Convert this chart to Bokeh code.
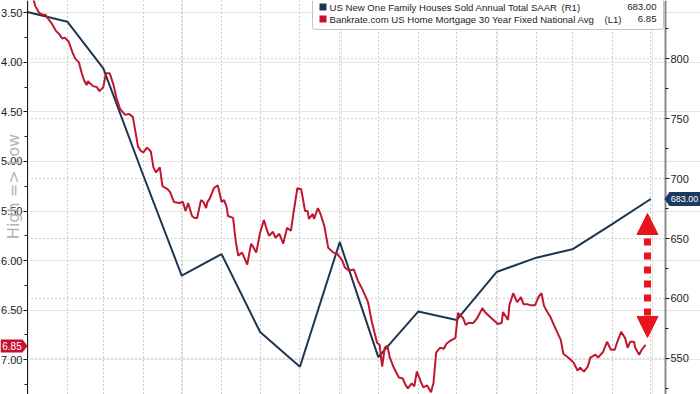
import math
import pandas as pd
from bokeh.plotting import figure
from bokeh.models import (Range1d, LinearAxis, FixedTicker, Grid, Label, BoxAnnotation,
                          PolyAnnotation, Arrow, NormalHead, ColumnDataSource,
                          PrintfTickFormatter)
from bokeh.embed import file_html
from bokeh.resources import INLINE

# ---------------- data ----------------
sales_months = ["2021-12-31", "2022-01-31", "2022-02-28", "2022-03-31", "2022-04-30",
                "2022-05-31", "2022-06-30", "2022-07-31", "2022-08-31", "2022-09-30",
                "2022-10-31", "2022-11-30", "2022-12-31", "2023-01-31", "2023-02-28",
                "2023-03-31", "2023-04-30"]
new_home_sales = [839, 831, 792, 703, 619, 637, 572, 543, 647, 551,
                  589, 582, 622, 634, 641, 662, 683]

rate_start = "2021-12-31"
rate_day = [1, 5, 6, 9, 12, 14, 16, 19, 22, 25,
            27, 29, 32, 35, 37, 40, 42, 44, 46, 47,
            51, 54, 56, 59, 61, 64, 67, 69, 72, 76,
            79, 82, 86, 88, 90, 93, 96, 98, 100, 103,
            105, 109, 111, 114, 118, 121, 123, 125, 128, 130,
            132, 135, 137, 139, 140, 142, 145, 148, 149, 151,
            153, 155, 156, 160, 162, 164, 167, 169, 171, 174,
            176, 178, 181, 184, 186, 188, 191, 193, 196, 199,
            202, 205, 207, 210, 213, 216, 218, 219, 222, 223,
            226, 228, 231, 234, 238, 241, 245, 247, 250, 254,
            257, 261, 265, 268, 272, 274, 276, 278, 280, 282,
            285, 289, 292, 294, 296, 299, 301, 303, 306, 308,
            311, 314, 316, 318, 321, 324, 326, 329, 333, 335,
            339, 341, 343, 347, 350, 354, 356, 360, 366, 369,
            370, 374, 375, 378, 381, 384, 386, 389, 391, 395,
            398, 400, 402, 405, 407, 411, 415, 417, 421, 425,
            428, 430, 433, 436, 438, 442, 444, 448, 451, 454,
            457, 459, 462, 465, 467, 469, 472, 473, 476, 478,
            481]
mortgage_rate = [3.28, 3.38, 3.43, 3.50, 3.52, 3.52, 3.56, 3.61, 3.68, 3.72,
                 3.76, 3.75, 3.79, 3.90, 3.96, 4.00, 4.10, 4.18, 4.23, 4.19,
                 4.24, 4.25, 4.29, 4.25, 4.11, 4.11, 4.23, 4.35, 4.47, 4.53,
                 4.52, 4.55, 4.85, 4.89, 4.91, 4.86, 4.90, 5.06, 5.11, 5.06,
                 5.25, 5.28, 5.31, 5.41, 5.42, 5.41, 5.50, 5.42, 5.55, 5.57,
                 5.57, 5.39, 5.41, 5.47, 5.41, 5.37, 5.27, 5.24, 5.29, 5.41,
                 5.39, 5.46, 5.55, 5.57, 5.80, 5.95, 5.92, 5.98, 6.04, 5.83,
                 5.87, 5.92, 5.72, 5.59, 5.68, 5.75, 5.71, 5.77, 5.73, 5.83,
                 5.67, 5.70, 5.52, 5.27, 5.28, 5.50, 5.50, 5.58, 5.53, 5.58,
                 5.47, 5.53, 5.65, 5.87, 5.92, 5.93, 6.00, 6.07, 6.10, 6.09,
                 6.20, 6.30, 6.42, 6.62, 6.83, 6.85, 7.07, 6.88, 6.86, 6.98,
                 7.08, 7.18, 7.19, 7.25, 7.29, 7.24, 7.27, 7.12, 7.22, 7.28,
                 7.26, 7.33, 7.23, 6.93, 6.88, 6.89, 6.84, 6.81, 6.78, 6.53,
                 6.58, 6.65, 6.63, 6.63, 6.58, 6.48, 6.52, 6.57, 6.64, 6.63,
                 6.52, 6.60, 6.45, 6.33, 6.42, 6.37, 6.44, 6.44, 6.45, 6.45,
                 6.36, 6.33, 6.46, 6.53, 6.57, 6.69, 6.80, 6.94, 6.98, 7.03,
                 7.11, 7.08, 7.12, 7.07, 6.98, 6.95, 6.98, 6.92, 6.82, 6.90,
                 6.90, 6.82, 6.72, 6.78, 6.88, 6.82, 6.82, 6.88, 6.95, 6.90,
                 6.85]

left_ticks = [3.5, 4.0, 4.5, 5.0, 5.5, 6.0, 6.5, 7.0]
left_minor = [3.25, 3.75, 4.25, 4.75, 5.25, 5.75, 6.25, 6.75, 7.25]
right_ticks = [550, 600, 650, 700, 750, 800, 850]
right_minor = [525, 575, 625, 675, 725, 775, 825]

sales_name = "US New One Family Houses Sold Annual Total SAAR"
rate_name = "Bankrate.com US Home Mortgage 30 Year Fixed National Avg"
sales_tag = "(R1)"
rate_tag = "(L1)"
sales_last = "683.00"
rate_last = "6.85"
side_label = "High => Low"

# ---------------- colours / layout ----------------
NAVY = "#1e3552"
RED = "#bf1730"
TAG_RED = "#c8102e"
TAG_NAVY = "#1d3a5f"
ARROW_RED = "#e8141e"
GRID = "#9c9c9c"
TXT = "#1c1c1c"
W, H = 700, 394
AX_L, AX_R = 27, 665          # pixel positions of the two value axes
PX_PER_DAY = 1.285
X0 = pd.Timestamp(rate_start)


def xpx(px):
    return (X0 + pd.Timedelta(days=(px - AX_L) / PX_PER_DAY)).value / 1e6


def ypx(py):            # left axis (mortgage rate, inverted)
    return 3.5 + (py - 12.3) / 99.1


def ypx_r(py):          # right axis (home sales)
    return 800 - (py - 58.3) / 1.198


p = figure(width=W, height=H, output_backend="svg", toolbar_location=None,
           x_axis_type="datetime", x_axis_location=None, y_axis_location=None,
           x_range=Range1d(xpx(0), xpx(W)),
           y_range=Range1d(ypx(H), ypx(0)),
           min_border_left=0, min_border_right=0,
           min_border_top=0, min_border_bottom=0,
           outline_line_color=None, background_fill_color="white",
           border_fill_color="white")
p.extra_y_ranges = {"right": Range1d(ypx_r(H), ypx_r(0))}

# axes, pinned at the chart's edges
la = LinearAxis(ticker=FixedTicker(ticks=left_ticks, minor_ticks=left_minor),
                formatter=PrintfTickFormatter(format="%.2f"), fixed_location=xpx(AX_L))
ra = LinearAxis(y_range_name="right", fixed_location=xpx(AX_R),
                ticker=FixedTicker(ticks=right_ticks, minor_ticks=right_minor))
for ax in (la, ra):
    ax.major_tick_out = 4
    ax.major_tick_in = 0
    ax.minor_tick_out = 3
    ax.minor_tick_in = 0
    ax.major_tick_line_color = "#1a1a1a"
    ax.minor_tick_line_color = "#1a1a1a"
    ax.major_label_text_font = "Liberation Sans"
    ax.major_label_text_font_size = "11px"
    ax.major_label_text_color = "#222222"
    ax.major_label_standoff = 1
la.axis_line_color = "#1a1a1a"
ra.axis_line_color = "#8a8a8a"
ra.axis_line_width = 2
p.add_layout(la, "left")
p.add_layout(ra, "right")

# grids
month_ticks = [pd.Timestamp(m).value / 1e6 for m in sales_months[1:]]
p.add_layout(Grid(dimension=0, ticker=FixedTicker(ticks=month_ticks),
                  grid_line_color=GRID, grid_line_dash="1 3", grid_line_width=1))
p.segment(x0=[xpx(AX_L)] * len(right_ticks), x1=[xpx(AX_R)] * len(right_ticks),
          y0=right_ticks, y1=right_ticks, y_range_name="right",
          line_color=GRID, line_dash="1 3", line_width=1, level="underlay")

# series
sales_src = ColumnDataSource(dict(date=pd.to_datetime(sales_months), v=new_home_sales))
rate_src = ColumnDataSource(dict(date=X0 + pd.to_timedelta(rate_day, unit="D"),
                                 v=mortgage_rate))
p.line("date", "v", source=sales_src, y_range_name="right",
       line_color=NAVY, line_width=2)
p.line("date", "v", source=rate_src, line_color=RED, line_width=2)

# legend box
p.add_layout(BoxAnnotation(left=xpx(312), right=xpx(663), top=ypx(-6), bottom=ypx(29),
                           fill_color="white", fill_alpha=1, line_color="#3c3c3c",
                           line_width=1, border_radius=3, level="annotation"))
for row_y, col, name, tag, tag_x, last in ((6.5, NAVY, sales_name, sales_tag, 561, sales_last),
                                           (18.5, TAG_RED, rate_name, rate_tag, 604, rate_last)):
    p.add_layout(BoxAnnotation(left=xpx(319), right=xpx(326), top=ypx(row_y - 3.5),
                               bottom=ypx(row_y + 3.5), fill_color=col, fill_alpha=1,
                               line_color=None))
    p.add_layout(Label(x=xpx(329), y=ypx(row_y), text=name, text_baseline="middle",
                       text_font="Liberation Sans", text_font_size="9.6px",
                       text_color=TXT))
    p.add_layout(Label(x=xpx(tag_x), y=ypx(row_y), text=tag,
                       text_baseline="middle", text_font="Liberation Sans",
                       text_font_size="9.6px", text_color=TXT))
    p.add_layout(Label(x=xpx(656), y=ypx(row_y), text=last, text_baseline="middle",
                       text_align="right", text_font="Liberation Sans",
                       text_font_size="9.6px", text_color=TXT))

# side label
p.add_layout(Label(x=xpx(12.5), y=ypx(186), text=side_label, angle=math.pi / 2,
                   text_align="center", text_baseline="middle",
                   text_font="DejaVu Sans", text_font_size="16px",
                   text_color="#b4b4b4"))

# last-value tags
p.add_layout(PolyAnnotation(xs=[xpx(664), xpx(669), xpx(700), xpx(700), xpx(669)],
                            ys=[ypx(198.5), ypx(191.5), ypx(191.5), ypx(205.5), ypx(205.5)],
                            fill_color=TAG_NAVY, fill_alpha=1, line_color=None))
p.add_layout(Label(x=xpx(684), y=ypx(198.5), text=sales_last, text_align="center",
                   text_baseline="middle", text_font="Liberation Sans",
                   text_font_size="9px", text_color="white"))
p.add_layout(PolyAnnotation(xs=[xpx(0), xpx(22), xpx(27), xpx(22), xpx(0)],
                            ys=[ypx(339), ypx(339), ypx(345.5), ypx(352), ypx(352)],
                            fill_color=TAG_RED, fill_alpha=1, line_color=None))
p.add_layout(Label(x=xpx(11.5), y=ypx(345.5), text=rate_last, text_align="center",
                   text_baseline="middle", text_font="Liberation Sans",
                   text_font_size="10px", text_color="white"))

# double-headed dotted arrow
p.add_layout(Arrow(start=NormalHead(size=21, fill_color=ARROW_RED, line_color=ARROW_RED),
                   end=NormalHead(size=21, fill_color=ARROW_RED, line_color=ARROW_RED),
                   x_start=xpx(647), y_start=ypx(213), x_end=xpx(647), y_end=ypx(337),
                   line_color=ARROW_RED, line_width=7, line_dash="7 7",
                   line_dash_offset=3))

open("out.html", "w").write(file_html(p, INLINE))
